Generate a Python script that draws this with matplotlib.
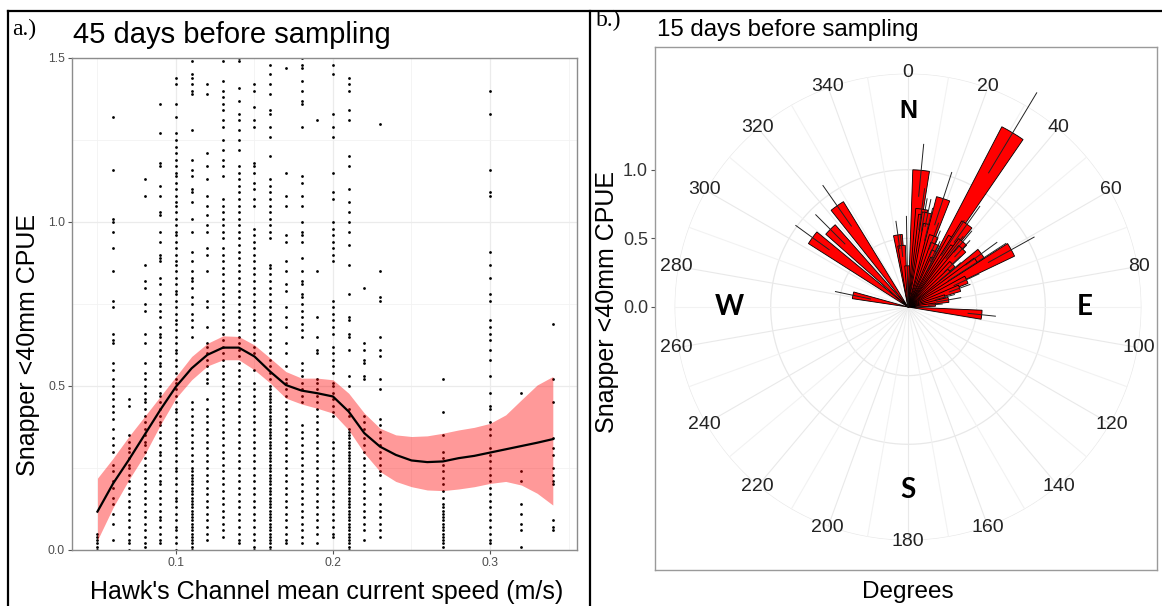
import numpy as np
import matplotlib
matplotlib.use('Agg')
import matplotlib.pyplot as plt
from matplotlib.lines import Line2D

plt.rcParams['font.family'] = ['Liberation Sans', 'DejaVu Sans']

# ---------------- panel a data: CPUE by current speed ----------------
speeds = [0.05, 0.06, 0.07, 0.08, 0.09, 0.10, 0.11, 0.12, 0.13, 0.14, 0.15,
          0.16, 0.17, 0.18, 0.19, 0.20, 0.21, 0.22, 0.23, 0.27, 0.30, 0.32, 0.34]

c05 = [0.00, 0.01, 0.02, 0.03, 0.04, 0.05]
c06 = [1.32, 1.16, 1.01, 1.00, 0.97, 0.92, 0.85, 0.76, 0.74, 0.66, 0.64, 0.63, 0.57, 0.55, 0.52, 0.50,
       0.48, 0.46, 0.44, 0.42, 0.40, 0.37, 0.34, 0.32, 0.30, 0.26, 0.24, 0.21, 0.19, 0.16, 0.14, 0.11,
       0.08, 0.03]
c07 = [0.46, 0.44, 0.35, 0.33, 0.31, 0.30, 0.28, 0.26, 0.25, 0.23, 0.21, 0.19, 0.17, 0.15, 0.13, 0.11,
       0.09, 0.07, 0.05, 0.03, 0.02, 0.00]
c08 = [1.13, 1.08, 0.87, 0.82, 0.80, 0.75, 0.73, 0.66, 0.63, 0.57, 0.54, 0.52, 0.50, 0.48, 0.46, 0.45,
       0.43, 0.41, 0.39, 0.37, 0.35, 0.33, 0.32, 0.30, 0.28, 0.26, 0.24, 0.22, 0.20, 0.18, 0.16, 0.14,
       0.12, 0.10, 0.08, 0.06, 0.04, 0.02, 0.01]
c09 = [1.36, 1.27, 1.18, 1.17, 1.11, 1.08, 1.03, 1.02, 0.97, 0.94, 0.90, 0.89, 0.88, 0.83, 0.81, 0.78,
       0.75, 0.73, 0.71, 0.68, 0.66, 0.65, 0.63, 0.61, 0.59, 0.57, 0.56, 0.54, 0.52, 0.50, 0.48, 0.47,
       0.45, 0.43, 0.41, 0.39, 0.38, 0.36, 0.34, 0.32, 0.30, 0.29, 0.27, 0.25, 0.23, 0.21, 0.20, 0.18,
       0.16, 0.14, 0.12, 0.10, 0.09, 0.07, 0.05, 0.03, 0.02]
c10 = [1.44, 1.42, 1.36, 1.32, 1.27, 1.25, 1.23, 1.21, 1.19, 1.17, 1.15, 1.14, 1.12, 1.10, 1.08, 1.06,
       1.05, 1.03, 1.01, 0.99, 0.97, 0.96, 0.94, 0.92, 0.90, 0.88, 0.87, 0.85, 0.83, 0.81, 0.79, 0.78,
       0.76, 0.74, 0.72, 0.70, 0.69, 0.67, 0.65, 0.63, 0.61, 0.60, 0.58, 0.56, 0.54, 0.52, 0.51, 0.49,
       0.47, 0.45, 0.43, 0.42, 0.40, 0.38, 0.36, 0.34, 0.33, 0.31, 0.29, 0.27, 0.25, 0.24, 0.22, 0.20,
       0.18, 0.16, 0.15, 0.13, 0.11, 0.09, 0.07, 0.06, 0.04, 0.02, 0.00]
c11 = [1.49, 1.45, 1.44, 1.42, 1.40, 1.39, 1.28, 1.19, 1.16, 1.14, 1.10, 1.09, 1.06, 1.01, 0.97, 0.91,
       0.88, 0.85, 0.83, 0.82, 0.80, 0.77, 0.75, 0.72, 0.70, 0.68, 0.65, 0.45, 0.43, 0.41, 0.39, 0.37,
       0.35, 0.33, 0.31, 0.29, 0.27, 0.25, 0.24, 0.23, 0.22, 0.21, 0.20, 0.19, 0.18, 0.17, 0.16, 0.15,
       0.14, 0.13, 0.12, 0.11, 0.10, 0.09, 0.08, 0.07, 0.06, 0.05, 0.04, 0.03, 0.02, 0.01, 0.00]
c12 = [1.42, 1.39, 1.21, 1.17, 1.13, 1.08, 1.05, 1.02, 0.99, 0.97, 0.92, 0.90, 0.85, 0.76, 0.74, 0.68,
       0.63, 0.62, 0.60, 0.58, 0.56, 0.54, 0.52, 0.51, 0.46, 0.43, 0.41, 0.39, 0.37, 0.35, 0.33, 0.31,
       0.29, 0.27, 0.25, 0.23, 0.21, 0.19, 0.17, 0.15, 0.13, 0.11, 0.09, 0.07, 0.05, 0.03]
c13 = [1.49, 1.43, 1.40, 1.38, 1.36, 1.34, 1.31, 1.29, 1.25, 1.22, 1.19, 1.17, 1.14, 1.07, 1.05, 1.03,
       1.01, 0.99, 0.97, 0.95, 0.92, 0.90, 0.88, 0.86, 0.84, 0.82, 0.80, 0.78, 0.76, 0.74, 0.72, 0.70,
       0.68, 0.66, 0.64, 0.62, 0.60, 0.58, 0.56, 0.54, 0.52, 0.50, 0.48, 0.46, 0.44, 0.42, 0.40, 0.38,
       0.36, 0.34, 0.32, 0.30, 0.28, 0.26, 0.24, 0.22, 0.20, 0.18, 0.16, 0.14, 0.12, 0.10, 0.08, 0.06,
       0.04]
c14 = [1.50, 1.49, 1.41, 1.37, 1.33, 1.31, 1.28, 1.25, 1.22, 1.17, 1.15, 1.13, 1.11, 1.09, 1.07, 1.05,
       1.03, 1.01, 0.99, 0.97, 0.95, 0.93, 0.91, 0.89, 0.87, 0.85, 0.83, 0.81, 0.79, 0.77, 0.75, 0.73,
       0.71, 0.69, 0.67, 0.65, 0.63, 0.61, 0.59, 0.57, 0.55, 0.53, 0.51, 0.49, 0.47, 0.45, 0.43, 0.41,
       0.39, 0.37, 0.35, 0.33, 0.31, 0.29, 0.27, 0.25, 0.23, 0.21, 0.19, 0.17, 0.15, 0.13, 0.11, 0.09,
       0.07, 0.05, 0.03, 0.02]
c15 = [1.42, 1.40, 1.35, 1.31, 1.29, 1.18, 1.17, 1.15, 1.12, 1.10, 1.07, 1.05, 0.98, 0.96, 0.94, 0.92,
       0.90, 0.88, 0.86, 0.84, 0.82, 0.80, 0.78, 0.76, 0.74, 0.72, 0.70, 0.68, 0.66, 0.64, 0.62, 0.60,
       0.55, 0.51, 0.49, 0.47, 0.45, 0.43, 0.41, 0.39, 0.37, 0.35, 0.33, 0.31, 0.29, 0.27, 0.25, 0.23,
       0.21, 0.19, 0.17, 0.15, 0.13, 0.11, 0.09, 0.07, 0.05, 0.03, 0.01, 0.00]
c16 = [1.48, 1.45, 1.42, 1.39, 1.34, 1.33, 1.29, 1.26, 1.20, 1.13, 1.11, 1.09, 1.07, 1.05, 1.03, 1.01,
       0.99, 0.97, 0.95, 0.87, 0.86, 0.84, 0.82, 0.80, 0.78, 0.76, 0.74, 0.72, 0.70, 0.68, 0.66, 0.64,
       0.62, 0.60, 0.58, 0.56, 0.54, 0.52, 0.50, 0.49, 0.48, 0.47, 0.46, 0.45, 0.44, 0.43, 0.42, 0.41,
       0.40, 0.39, 0.38, 0.37, 0.36, 0.35, 0.34, 0.33, 0.32, 0.31, 0.30, 0.29, 0.28, 0.27, 0.26, 0.25,
       0.24, 0.23, 0.22, 0.21, 0.20, 0.19, 0.18, 0.17, 0.16, 0.15, 0.14, 0.13, 0.12, 0.11, 0.10, 0.09,
       0.08, 0.07, 0.06, 0.05, 0.04, 0.03, 0.02, 0.01, 0.00]
c17 = [1.47, 1.15, 1.08, 1.05, 0.96, 0.94, 0.88, 0.85, 0.81, 0.79, 0.74, 0.71, 0.68, 0.63, 0.60, 0.56,
       0.52, 0.51, 0.49, 0.47, 0.45, 0.43, 0.41, 0.39, 0.37, 0.35, 0.33, 0.31, 0.29, 0.27, 0.25, 0.23,
       0.21, 0.19, 0.17, 0.15, 0.13, 0.11, 0.09, 0.07, 0.05, 0.03, 0.02]
c18 = [1.50, 1.48, 1.47, 1.43, 1.40, 1.37, 1.36, 1.29, 1.14, 1.12, 1.08, 1.05, 1.00, 0.97, 0.96, 0.94,
       0.89, 0.85, 0.82, 0.81, 0.78, 0.77, 0.75, 0.73, 0.71, 0.69, 0.67, 0.65, 0.57, 0.55, 0.53, 0.51,
       0.49, 0.47, 0.45, 0.38, 0.36, 0.34, 0.32, 0.30, 0.28, 0.26, 0.24, 0.22, 0.20, 0.18, 0.16, 0.14,
       0.12, 0.10, 0.08, 0.06, 0.04, 0.02]
c19 = [1.31, 0.85, 0.71, 0.65, 0.61, 0.60, 0.52, 0.51, 0.49, 0.47, 0.45, 0.43, 0.41, 0.39, 0.37, 0.35,
       0.33, 0.31, 0.29, 0.27, 0.25, 0.23, 0.21, 0.19, 0.17, 0.15, 0.13, 0.11, 0.09, 0.07, 0.05, 0.02]
c20 = [1.48, 1.45, 1.33, 1.29, 1.26, 1.15, 1.09, 1.07, 1.00, 0.98, 0.96, 0.94, 0.92, 0.90, 0.88, 0.76,
       0.74, 0.72, 0.70, 0.68, 0.66, 0.62, 0.60, 0.58, 0.56, 0.54, 0.51, 0.50, 0.48, 0.46, 0.44, 0.42,
       0.41, 0.33, 0.31, 0.29, 0.27, 0.25, 0.23, 0.21, 0.19, 0.17, 0.15, 0.13, 0.11, 0.09, 0.07, 0.05,
       0.04]
c21 = [1.44, 1.42, 1.40, 1.34, 1.31, 1.20, 1.17, 1.10, 1.06, 1.03, 1.00, 0.97, 0.93, 0.87, 0.78, 0.71,
       0.70, 0.66, 0.65, 0.61, 0.53, 0.50, 0.43, 0.41, 0.37, 0.36, 0.35, 0.34, 0.33, 0.32, 0.31, 0.30,
       0.29, 0.28, 0.27, 0.26, 0.25, 0.24, 0.23, 0.22, 0.21, 0.20, 0.19, 0.18, 0.17, 0.16, 0.15, 0.14,
       0.13, 0.12, 0.11, 0.10, 0.09, 0.08, 0.07, 0.06, 0.05, 0.04, 0.03, 0.02, 0.01, 0.00]
c22 = [0.80, 0.63, 0.61, 0.58, 0.57, 0.53, 0.52, 0.41, 0.39, 0.37, 0.34, 0.32, 0.30, 0.28, 0.26, 0.24,
       0.22, 0.20, 0.18, 0.16, 0.14, 0.12, 0.10, 0.08, 0.06, 0.03]
c23 = [1.30, 0.85, 0.77, 0.76, 0.65, 0.61, 0.59, 0.52, 0.49, 0.40, 0.38, 0.36, 0.34, 0.32, 0.30, 0.28,
       0.26, 0.24, 0.23, 0.19, 0.17, 0.14, 0.12, 0.10, 0.08, 0.06, 0.04]
c27 = [0.52, 0.42, 0.35, 0.30, 0.28, 0.26, 0.24, 0.22, 0.20, 0.18, 0.16, 0.14, 0.13, 0.12, 0.11, 0.10,
       0.09, 0.08, 0.07, 0.06, 0.05, 0.04, 0.03, 0.02, 0.01]
c30 = [1.40, 1.33, 1.16, 1.09, 1.08, 0.91, 0.87, 0.83, 0.78, 0.76, 0.70, 0.68, 0.66, 0.64, 0.61, 0.58,
       0.53, 0.48, 0.44, 0.43, 0.39, 0.37, 0.35, 0.31, 0.29, 0.27, 0.25, 0.23, 0.21, 0.19, 0.17, 0.15,
       0.13, 0.11, 0.09, 0.07, 0.05, 0.03, 0.02]
c32 = [0.48, 0.24, 0.21, 0.14, 0.11, 0.08, 0.06, 0.01]
c34 = [0.69, 0.52, 0.45, 0.34, 0.31, 0.29, 0.25, 0.23, 0.21, 0.20, 0.09, 0.07, 0.06]

columns = [c05, c06, c07, c08, c09, c10, c11, c12, c13, c14, c15, c16, c17, c18, c19,
           c20, c21, c22, c23, c27, c30, c32, c34]

# smoother
fit_x = [0.05, 0.06, 0.07, 0.08, 0.09, 0.10, 0.11, 0.12, 0.13, 0.14, 0.15, 0.16, 0.17, 0.18, 0.19,
         0.20, 0.21, 0.22, 0.23, 0.24, 0.25, 0.26, 0.27, 0.28, 0.29, 0.30, 0.31, 0.32, 0.33, 0.34]
fit_y = [0.117, 0.203, 0.275, 0.351, 0.427, 0.498, 0.554, 0.595, 0.617, 0.617, 0.590, 0.544, 0.503,
         0.486, 0.478, 0.468, 0.422, 0.356, 0.315, 0.290, 0.273, 0.268, 0.270, 0.280, 0.287, 0.297,
         0.307, 0.317, 0.327, 0.338]
fit_hi = [0.219, 0.280, 0.346, 0.407, 0.468, 0.529, 0.590, 0.630, 0.653, 0.651, 0.625, 0.585, 0.544,
          0.524, 0.524, 0.519, 0.478, 0.417, 0.371, 0.351, 0.346, 0.348, 0.356, 0.366, 0.374, 0.386,
          0.412, 0.458, 0.503, 0.529]
fit_lo = [0.030, 0.130, 0.214, 0.290, 0.381, 0.463, 0.519, 0.561, 0.580, 0.580, 0.549, 0.509, 0.463,
          0.445, 0.432, 0.417, 0.366, 0.295, 0.239, 0.209, 0.193, 0.183, 0.181, 0.186, 0.193, 0.203,
          0.209, 0.198, 0.173, 0.137]

# ---------------- panel b data: mean CPUE by direction ----------------
dir_deg = [282, 306, 315, 325, 352, 354, 359, 5.5, 8, 10, 12, 14, 18, 20, 23, 26, 28, 31, 33,
           35.5, 38, 40, 43, 46, 50, 54, 57, 61, 65, 70, 75, 80, 85, 96]
dir_mean = [0.41, 0.86, 0.80, 0.90, 0.53, 0.45, 0.30, 1.00, 0.72, 0.68, 0.70, 0.62, 0.83, 0.55,
            0.50, 0.45, 0.40, 1.48, 0.60, 0.74, 0.55, 0.62, 0.58, 0.45, 0.40, 0.66, 0.60, 0.86,
            0.47, 0.40, 0.28, 0.30, 0.20, 0.54]
dir_se = [0.13, 0.15, 0.15, 0.18, 0.10, 0.08, 0.36, 0.19, 0.15, 0.12, 0.10, 0.12, 0.20, 0.10,
          0.10, 0.08, 0.10, 0.34, 0.15, 0.16, 0.10, 0.10, 0.08, 0.08, 0.10, 0.14, 0.25, 0.19,
          0.10, 0.08, 0.07, 0.09, 0.05, 0.10]

W, H = 1162, 606


def fx(x):
    return x / W


def fy(y):
    return 1 - y / H


fig = plt.figure(figsize=(W / 100, H / 100), dpi=100)

# ---------------- left panel ----------------
ax = fig.add_axes([fx(72), fy(550), (577 - 72) / W, (550 - 58) / H])
ax.set_xlim(0.0338, 0.3554)
ax.set_ylim(0, 1.5)
ax.set_xticks([0.1, 0.2, 0.3])
ax.set_xticklabels(['0.1', '0.2', '0.3'])
ax.set_yticks([0.0, 0.5, 1.0, 1.5])
ax.set_yticklabels(['0.0', '0.5', '1.0', '1.5'])
ax.set_xticks([0.05, 0.15, 0.25, 0.35], minor=True)
ax.set_yticks([0.25, 0.75, 1.25], minor=True)
ax.grid(True, which='major', color='#ebebeb', lw=0.9, zorder=0)
ax.grid(True, which='minor', color='#f2f2f2', lw=0.6, zorder=0)
ax.set_axisbelow(True)
ax.tick_params(which='major', length=3, color='#555555', labelcolor='#4d4d4d', labelsize=8.7, pad=2)
ax.tick_params(which='minor', length=0)
for s in ax.spines.values():
    s.set_color('#8c8c8c')
    s.set_linewidth(1.0)

for sp, col in zip(speeds, columns):
    ax.plot(np.full(len(col), sp), col, 'o', ms=2.0, mew=0, color='black', zorder=2)

ax.fill_between(fit_x, fit_lo, fit_hi, color='red', alpha=0.4, lw=0, zorder=3)
ax.plot(fit_x, fit_y, color='black', lw=1.6, zorder=4)

fig.text(fx(73), fy(43), '45 days before sampling', fontsize=21, ha='left', va='baseline')
fig.text(fx(12), fy(29), 'a.)', fontsize=17, family='Liberation Serif', ha='left', va='center')
fig.text(fx(28), fy(345), 'Snapper <40mm CPUE', fontsize=18, rotation=90, ha='center', va='center')
fig.text(fx(327), fy(592), "Hawk's Channel mean current speed (m/s)", fontsize=18,
         ha='center', va='center')

# ---------------- right panel ----------------
cx, cy, scale = 908, 307, 137.3
rp = fig.add_axes([fx(655), fy(570), (1157 - 655) / W, (570 - 47) / H])
rp.set_xlim(0, 1)
rp.set_ylim(-(570 - cy) / scale, (cy - 47) / scale)
rp.set_xticks([])
rp.set_yticks([0.0, 0.5, 1.0])
rp.set_yticklabels(['0.0', '0.5', '1.0'])
rp.tick_params(axis='y', length=3, color='#555555', labelcolor='#333333', labelsize=13, pad=2)
for s in rp.spines.values():
    s.set_color('#9a9a9a')
    s.set_linewidth(1.0)

RMAX = 1.70
rad = RMAX * scale
pax = fig.add_axes([fx(cx - rad), fy(cy + rad), 2 * rad / W, 2 * rad / H], projection='polar')
pax.set_theta_zero_location('N')
pax.set_theta_direction(-1)
pax.set_ylim(0, RMAX)
pax.grid(False)
pax.set_xticks([])
pax.set_yticks([])
pax.spines['polar'].set_visible(False)
pax.patch.set_alpha(0)

ring = np.linspace(0, 2 * np.pi, 721)
for r in [0.5, 1.0, RMAX]:
    pax.plot(ring, np.full(ring.size, r), color='#e8e8e8', lw=0.9, zorder=0)
for d in range(0, 360, 10):
    col = '#e9e9e9' if d % 20 == 0 else '#f2f2f2'
    pax.plot([np.deg2rad(d)] * 2, [0, RMAX], color=col, lw=0.8, zorder=0)

for d in range(0, 360, 20):
    pax.text(np.deg2rad(d), 1.71, str(d), fontsize=14, color='#222222', ha='center', va='center')

th = np.deg2rad(dir_deg)
pax.bar(th, dir_mean, width=np.deg2rad(7), bottom=0, color='#ff0000', edgecolor='black',
        linewidth=0.6, zorder=2)
for t, m, e in zip(th, dir_mean, dir_se):
    pax.plot([t, t], [max(m - e, 0), m + e], color='#222222', lw=0.7, zorder=3, clip_on=False)

for lab, d, r, fam, fs in [('N', 0, 1.43, 'Liberation Sans', 18), ('E', 90, 1.29, 'Lato', 20),
                           ('S', 180, 1.33, 'Lato', 20), ('W', 270, 1.30, 'Lato', 20)]:
    pax.text(np.deg2rad(d), r, lab, fontsize=fs, fontweight='bold', family=fam,
             ha='center', va='center')

fig.text(fx(657), fy(36), '15 days before sampling', fontsize=17.3, ha='left', va='baseline')
fig.text(fx(596), fy(20), 'b.)', fontsize=17, family='Liberation Serif', ha='left', va='center')
fig.text(fx(607), fy(302), 'Snapper <40mm CPUE', fontsize=18, rotation=90, ha='center', va='center')
fig.text(fx(908), fy(592), 'Degrees', fontsize=17.5, ha='center', va='center')

# outer frame lines
for (x0, y0, x1, y1) in [(7.5, 11, 7.5, 606), (7.5, 11, 1162, 11), (590, 11, 590, 606)]:
    fig.add_artist(Line2D([fx(x0), fx(x1)], [fy(y0), fy(y1)], color='black', lw=1.6))

fig.savefig('out.png', dpi=100)
